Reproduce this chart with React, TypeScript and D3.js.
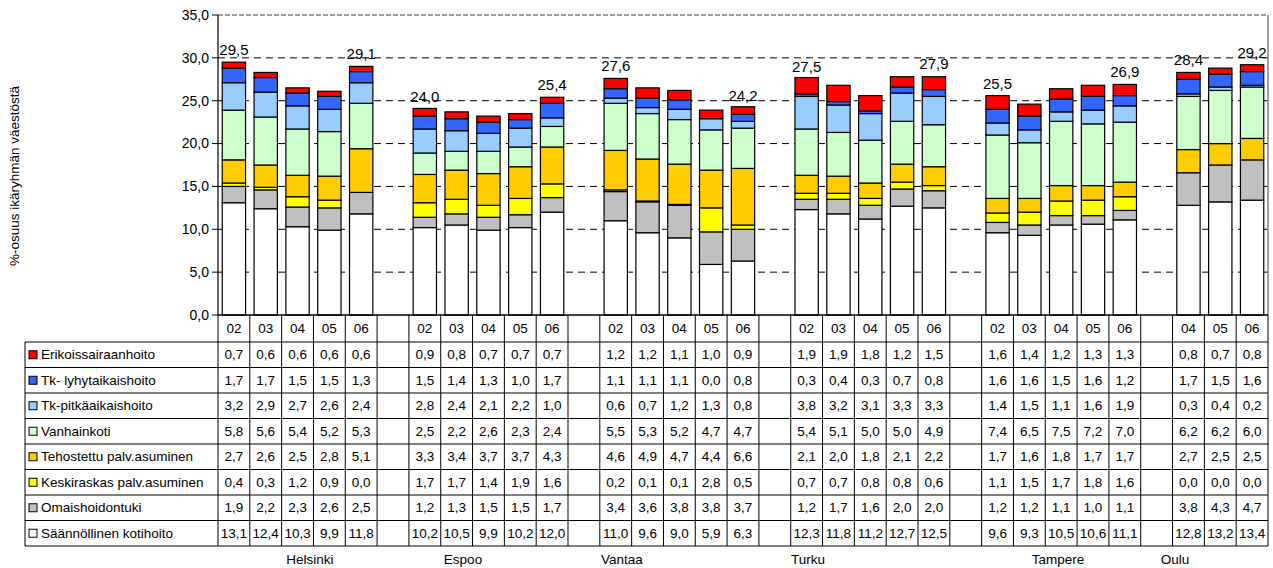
import React from 'react';
import * as d3 from 'd3';

// ---------- DATA ----------
const cities = ['Helsinki', 'Espoo', 'Vantaa', 'Turku', 'Tampere', 'Oulu'];
const cityYears = [
  ['02', '03', '04', '05', '06'],
  ['02', '03', '04', '05', '06'],
  ['02', '03', '04', '05', '06'],
  ['02', '03', '04', '05', '06'],
  ['02', '03', '04', '05', '06'],
  ['04', '05', '06'],
];

// table order (top row first)
const seriesNames = [
  'Erikoissairaanhoito',
  'Tk- lyhytaikaishoito',
  'Tk-pitkäaikaishoito',
  'Vanhainkoti',
  'Tehostettu palv.asuminen',
  'Keskiraskas palv.asuminen',
  'Omaishoidontuki',
  'Säännöllinen kotihoito',
];
const seriesColors = ['#FF0000', '#3366FF', '#99CCFF', '#CCFFCC', '#FFCC00', '#FFFF00', '#C0C0C0', '#FFFFFF'];

const erikoissairaanhoito = [
  [0.7, 0.6, 0.6, 0.6, 0.6], [0.9, 0.8, 0.7, 0.7, 0.7], [1.2, 1.2, 1.1, 1.0, 0.9],
  [1.9, 1.9, 1.8, 1.2, 1.5], [1.6, 1.4, 1.2, 1.3, 1.3], [0.8, 0.7, 0.8],
];
const tkLyhytaikaishoito = [
  [1.7, 1.7, 1.5, 1.5, 1.3], [1.5, 1.4, 1.3, 1.0, 1.7], [1.1, 1.1, 1.1, 0.0, 0.8],
  [0.3, 0.4, 0.3, 0.7, 0.8], [1.6, 1.6, 1.5, 1.6, 1.2], [1.7, 1.5, 1.6],
];
const tkPitkaaikaishoito = [
  [3.2, 2.9, 2.7, 2.6, 2.4], [2.8, 2.4, 2.1, 2.2, 1.0], [0.6, 0.7, 1.2, 1.3, 0.8],
  [3.8, 3.2, 3.1, 3.3, 3.3], [1.4, 1.5, 1.1, 1.6, 1.9], [0.3, 0.4, 0.2],
];
const vanhainkoti = [
  [5.8, 5.6, 5.4, 5.2, 5.3], [2.5, 2.2, 2.6, 2.3, 2.4], [5.5, 5.3, 5.2, 4.7, 4.7],
  [5.4, 5.1, 5.0, 5.0, 4.9], [7.4, 6.5, 7.5, 7.2, 7.0], [6.2, 6.2, 6.0],
];
const tehostettu = [
  [2.7, 2.6, 2.5, 2.8, 5.1], [3.3, 3.4, 3.7, 3.7, 4.3], [4.6, 4.9, 4.7, 4.4, 6.6],
  [2.1, 2.0, 1.8, 2.1, 2.2], [1.7, 1.6, 1.8, 1.7, 1.7], [2.7, 2.5, 2.5],
];
const keskiraskas = [
  [0.4, 0.3, 1.2, 0.9, 0.0], [1.7, 1.7, 1.4, 1.9, 1.6], [0.2, 0.1, 0.1, 2.8, 0.5],
  [0.7, 0.7, 0.8, 0.8, 0.6], [1.1, 1.5, 1.7, 1.8, 1.6], [0.0, 0.0, 0.0],
];
const omaishoidontuki = [
  [1.9, 2.2, 2.3, 2.6, 2.5], [1.2, 1.3, 1.5, 1.5, 1.7], [3.4, 3.6, 3.8, 3.8, 3.7],
  [1.2, 1.7, 1.6, 2.0, 2.0], [1.2, 1.2, 1.1, 1.0, 1.1], [3.8, 4.3, 4.7],
];
const saannollinenKotihoito = [
  [13.1, 12.4, 10.3, 9.9, 11.8], [10.2, 10.5, 9.9, 10.2, 12.0], [11.0, 9.6, 9.0, 5.9, 6.3],
  [12.3, 11.8, 11.2, 12.7, 12.5], [9.6, 9.3, 10.5, 10.6, 11.1], [12.8, 13.2, 13.4],
];
const seriesValues = [
  erikoissairaanhoito, tkLyhytaikaishoito, tkPitkaaikaishoito, vanhainkoti,
  tehostettu, keskiraskas, omaishoidontuki, saannollinenKotihoito,
];

// total labels on first and last bar of each city
const totalFirst = [29.5, 24.0, 27.6, 27.5, 25.5, 28.4];
const totalLast = [29.1, 25.4, 24.2, 27.9, 26.9, 29.2];

const yTicks = [0, 5, 10, 15, 20, 25, 30, 35];
const yTitle = '%-osuus ikäryhmän väestöstä';

// ---------- LAYOUT ----------
const W = 1273, H = 568;
const plotL = 218, plotR = 1268, plotT = 15, plotB = 315;
const headerB = 342, rowH = 25.5;
const legendL = 25;
const cityLabelX = [310, 463, 622, 808, 1058, 1175];
const cityLabelY = 564;
const FONT = 'Liberation Sans, Arial, sans-serif';

const fmt = (v: number) => d3.format('.1f')(v).replace('.', ',');

type Col = { key: string; ci: number; yi: number; year: string | null };

export default function App() {
  const cols: Col[] = [];
  cities.forEach((c, ci) => {
    cityYears[ci].forEach((yr, yi) => cols.push({ key: `${ci}-${yi}`, ci, yi, year: yr }));
    if (ci < cities.length - 1) cols.push({ key: `gap-${ci}`, ci, yi: -1, year: null });
  });

  const x = d3.scaleBand<string>().domain(cols.map((c) => c.key)).range([plotL, plotR]).padding(0);
  const bw = x.bandwidth();
  const barW = bw * 0.733;
  const y = d3.scaleLinear().domain([0, 35]).range([plotB, plotT]);

  // stack: bottom to top = reverse of table order
  const stackOrder = seriesNames.map((_, i) => i).reverse();
  const barCols = cols.filter((c) => c.year !== null);
  const rows = barCols.map((c) => {
    const r: Record<string, number> = {};
    seriesNames.forEach((n, si) => (r[n] = seriesValues[si][c.ci][c.yi]));
    return r;
  });
  const stacked = d3.stack<Record<string, number>>().keys(stackOrder.map((i) => seriesNames[i]))(rows);

  const tableB = headerB + rowH * seriesNames.length;
  const boundaries = cols.map((c) => x(c.key)!).concat([plotR]);

  return (
    <svg width={W} height={H} style={{ position: 'absolute', left: 0, top: 0, background: '#fff' }} fontFamily={FONT}>
      {/* gridlines */}
      {yTicks.filter((t) => t > 0 && t < 35).map((t) => (
        <line key={`g${t}`} x1={plotL} x2={plotR} y1={y(t)} y2={y(t)} stroke="#000" strokeWidth={1} strokeDasharray="7,5" />
      ))}
      <line x1={plotL} x2={plotR} y1={y(35)} y2={y(35)} stroke="#808080" strokeWidth={1.5} strokeDasharray="5,2" />
      <line x1={plotR} x2={plotR} y1={plotT} y2={plotB} stroke="#808080" strokeWidth={1.5} />

      {/* bars */}
      {stacked.map((layer) => {
        const si = seriesNames.indexOf(layer.key);
        return (
          <g key={layer.key}>
            {layer.map((d, i) => {
              const c = barCols[i];
              const h = y(d[0]) - y(d[1]);
              if (h <= 0) return null;
              return (
                <rect key={i} x={x(c.key)! + (bw - barW) / 2} y={y(d[1])} width={barW} height={h}
                  fill={seriesColors[si]} stroke="#000" strokeWidth={1.2} />
              );
            })}
          </g>
        );
      })}

      {/* total labels */}
      {cities.map((c, ci) => {
        const n = cityYears[ci].length;
        const items = [
          { key: `${ci}-0`, v: totalFirst[ci] },
          { key: `${ci}-${n - 1}`, v: totalLast[ci] },
        ];
        return items.map((it) => (
          <text key={it.key} x={x(it.key)! + bw / 2} y={y(it.v) - 7} textAnchor="middle" fontSize={15} fill="#000">
            {fmt(it.v)}
          </text>
        ));
      })}

      {/* y axis */}
      <line x1={plotL} x2={plotL} y1={plotT} y2={plotB} stroke="#000" strokeWidth={1.2} />
      {yTicks.map((t) => (
        <g key={`t${t}`}>
          <line x1={plotL - 6} x2={plotL} y1={y(t)} y2={y(t)} stroke="#000" strokeWidth={1} />
          <text x={plotL - 9} y={y(t)} dy="0.35em" textAnchor="end" fontSize={14} fill="#000">{fmt(t)}</text>
        </g>
      ))}
      <text transform={`translate(19,176) rotate(-90)`} textAnchor="middle" fontSize={13.5} fill="#000">
        {yTitle}
      </text>

      {/* table */}
      <line x1={plotL} x2={plotR} y1={plotB} y2={plotB} stroke="#000" strokeWidth={1.5} />
      {seriesNames.map((_, ri) => (
        <line key={`h${ri}`} x1={legendL} x2={plotR} y1={headerB + ri * rowH} y2={headerB + ri * rowH} stroke="#000" strokeWidth={1} />
      ))}
      <line x1={legendL} x2={plotR} y1={tableB} y2={tableB} stroke="#000" strokeWidth={1} />
      <line x1={legendL} x2={legendL} y1={headerB} y2={tableB} stroke="#000" strokeWidth={1} />
      {boundaries.map((bx, i) => (
        <line key={`v${i}`} x1={bx} x2={bx} y1={plotB} y2={tableB} stroke="#000" strokeWidth={1} />
      ))}
      {/* year header */}
      {barCols.map((c) => (
        <text key={`yr${c.key}`} x={x(c.key)! + bw / 2} y={(plotB + headerB) / 2} dy="0.35em" textAnchor="middle" fontSize={13.5} fill="#000">
          {c.year}
        </text>
      ))}
      {/* legend labels */}
      {seriesNames.map((n, ri) => {
        const cy = headerB + ri * rowH + rowH / 2;
        return (
          <g key={`l${ri}`}>
            <rect x={29} y={cy - 4} width={8} height={8} fill={seriesColors[ri]} stroke="#000" strokeWidth={1} />
            <text x={41} y={cy} dy="0.35em" fontSize={13.5} fill="#000">{n}</text>
          </g>
        );
      })}
      {/* values */}
      {seriesNames.map((n, ri) => {
        const cy = headerB + ri * rowH + rowH / 2;
        return barCols.map((c) => (
          <text key={`val${ri}-${c.key}`} x={x(c.key)! + bw / 2} y={cy} dy="0.35em" textAnchor="middle" fontSize={13.5} fill="#000">
            {fmt(seriesValues[ri][c.ci][c.yi])}
          </text>
        ));
      })}
      {/* city labels */}
      {cities.map((c, ci) => (
        <text key={`c${ci}`} x={cityLabelX[ci]} y={cityLabelY} textAnchor="middle" fontSize={13.5} fill="#000">{c}</text>
      ))}
    </svg>
  );
}
